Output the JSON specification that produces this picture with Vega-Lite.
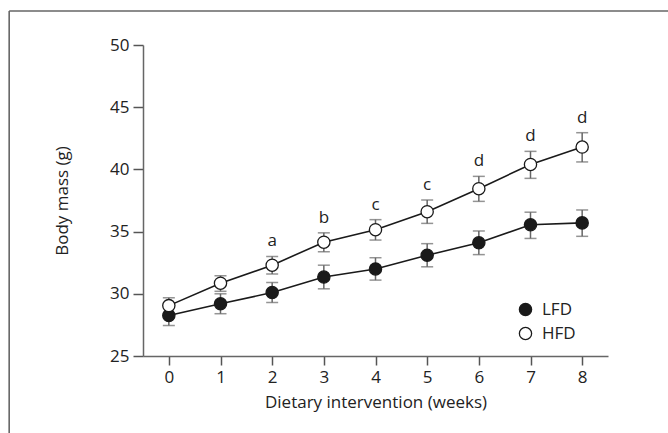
{
  "$schema": "https://vega.github.io/schema/vega-lite/v6.json",
  "width": 465,
  "height": 311,
  "autosize": {"type": "none"},
  "padding": {"left": 143, "top": 45, "right": 60, "bottom": 77},
  "background": "white",
  "config": {
    "view": {"stroke": null},
    "font": "Open Sans",
    "axis": {
      "grid": false,
      "domainColor": "#666666",
      "domainWidth": 1.5,
      "tickColor": "#555555",
      "tickWidth": 1.5,
      "labelColor": "#222222",
      "titleColor": "#222222",
      "labelFontSize": 17,
      "titleFontSize": 17,
      "titleFontWeight": "normal"
    }
  },
  "data": {
    "values": [
      {"week": 0, "group": "LFD", "mass": 28.25, "lo": 27.45, "hi": 29.05, "sig": ""},
      {"week": 1, "group": "LFD", "mass": 29.2, "lo": 28.4, "hi": 30.0, "sig": ""},
      {"week": 2, "group": "LFD", "mass": 30.1, "lo": 29.3, "hi": 30.9, "sig": ""},
      {"week": 3, "group": "LFD", "mass": 31.35, "lo": 30.4, "hi": 32.3, "sig": ""},
      {"week": 4, "group": "LFD", "mass": 32.0, "lo": 31.1, "hi": 32.9, "sig": ""},
      {"week": 5, "group": "LFD", "mass": 33.1, "lo": 32.17, "hi": 34.03, "sig": ""},
      {"week": 6, "group": "LFD", "mass": 34.1, "lo": 33.15, "hi": 35.05, "sig": ""},
      {"week": 7, "group": "LFD", "mass": 35.55, "lo": 34.45, "hi": 36.56, "sig": ""},
      {"week": 8, "group": "LFD", "mass": 35.7, "lo": 34.62, "hi": 36.74, "sig": ""},
      {"week": 0, "group": "HFD", "mass": 29.05, "lo": 28.4, "hi": 29.68, "sig": ""},
      {"week": 1, "group": "HFD", "mass": 30.85, "lo": 30.2, "hi": 31.45, "sig": ""},
      {"week": 2, "group": "HFD", "mass": 32.3, "lo": 31.6, "hi": 33.0, "sig": "a"},
      {"week": 3, "group": "HFD", "mass": 34.15, "lo": 33.38, "hi": 34.9, "sig": "b"},
      {"week": 4, "group": "HFD", "mass": 35.15, "lo": 34.32, "hi": 35.96, "sig": "c"},
      {"week": 5, "group": "HFD", "mass": 36.6, "lo": 35.66, "hi": 37.54, "sig": "c"},
      {"week": 6, "group": "HFD", "mass": 38.45, "lo": 37.43, "hi": 39.44, "sig": "d"},
      {"week": 7, "group": "HFD", "mass": 40.4, "lo": 39.28, "hi": 41.45, "sig": "d"},
      {"week": 8, "group": "HFD", "mass": 41.8, "lo": 40.6, "hi": 42.95, "sig": "d"}
    ]
  },
  "layer": [
    {
      "data": {"values": [{"frame": "left"}]},
      "mark": {"type": "rule", "clip": false, "color": "#666666", "strokeWidth": 1.6},
      "encoding": {
        "x": {"datum": -3.09},
        "y": {"datum": 52.73},
        "y2": {"datum": 17}
      }
    },
    {
      "data": {"values": [{"frame": "top"}]},
      "mark": {"type": "rule", "clip": false, "color": "#666666", "strokeWidth": 1.6},
      "encoding": {
        "x": {"datum": -3.09},
        "x2": {"datum": 10.5},
        "y": {"datum": 52.73}
      }
    },
    {
      "mark": {"type": "line", "color": "#1a1a1a", "strokeWidth": 1.6},
      "encoding": {
        "x": {
          "field": "week",
          "type": "quantitative",
          "scale": {"domain": [-0.5, 8.5], "nice": false, "zero": false},
          "axis": {
            "values": [0, 1, 2, 3, 4, 5, 6, 7, 8],
            "tickSize": 9,
            "labelPadding": 4,
            "title": "Dietary intervention (weeks)",
            "titlePadding": 9
          }
        },
        "y": {
          "field": "mass",
          "type": "quantitative",
          "scale": {"domain": [25, 50], "nice": false, "zero": false},
          "axis": {
            "values": [25, 30, 35, 40, 45, 50],
            "tickSize": 10,
            "labelPadding": 4,
            "title": "Body mass (g)",
            "titlePadding": 38
          }
        },
        "detail": {"field": "group"}
      }
    },
    {
      "mark": {"type": "rule", "color": "#666666", "strokeWidth": 1.5},
      "encoding": {
        "x": {"field": "week", "type": "quantitative"},
        "y": {"field": "lo", "type": "quantitative"},
        "y2": {"field": "hi"}
      }
    },
    {
      "mark": {"type": "tick", "orient": "horizontal", "color": "#666666", "size": 12, "thickness": 1.5},
      "encoding": {
        "x": {"field": "week", "type": "quantitative"},
        "y": {"field": "lo", "type": "quantitative"}
      }
    },
    {
      "mark": {"type": "tick", "orient": "horizontal", "color": "#666666", "size": 12, "thickness": 1.5},
      "encoding": {
        "x": {"field": "week", "type": "quantitative"},
        "y": {"field": "hi", "type": "quantitative"}
      }
    },
    {
      "mark": {"type": "point", "shape": "circle", "filled": true, "size": 150, "stroke": "#1a1a1a", "strokeWidth": 1.3, "opacity": 1},
      "encoding": {
        "x": {"field": "week", "type": "quantitative"},
        "y": {"field": "mass", "type": "quantitative"},
        "fill": {
          "field": "group",
          "type": "nominal",
          "scale": {"domain": ["LFD", "HFD"], "range": ["#1a1a1a", "#ffffff"]},
          "legend": {
            "title": null,
            "orient": "none",
            "legendX": 374,
            "legendY": 256,
            "symbolType": "circle",
            "symbolSize": 150,
            "symbolStrokeColor": "#1a1a1a",
            "symbolStrokeWidth": 1.3,
            "labelFontSize": 17,
            "labelColor": "#222222",
            "labelOffset": 8,
            "rowPadding": 5
          }
        }
      }
    },
    {
      "transform": [{"filter": "datum.sig != ''"}],
      "mark": {"type": "text", "fontSize": 17, "color": "#222222", "dy": -15, "baseline": "middle"},
      "encoding": {
        "x": {"field": "week", "type": "quantitative"},
        "y": {"field": "hi", "type": "quantitative"},
        "text": {"field": "sig"}
      }
    }
  ]
}
